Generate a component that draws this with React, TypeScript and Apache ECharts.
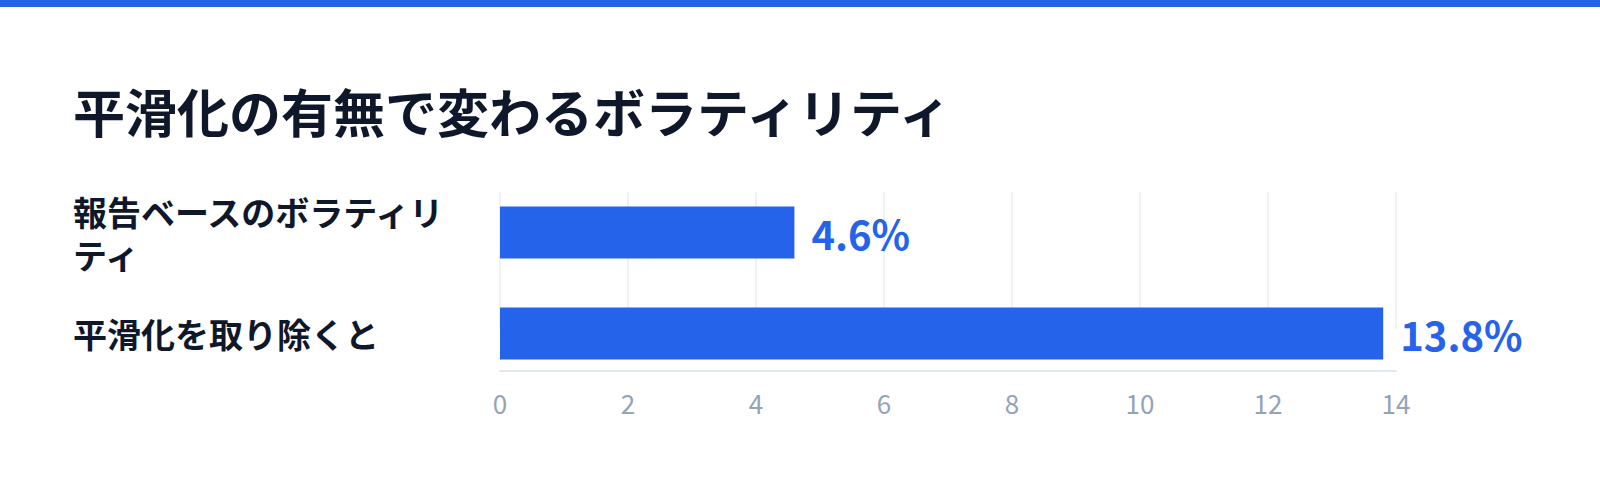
import { useEffect, useRef } from "react";
import * as echarts from "echarts";

// chart data
const categories = ["報告ベースのボラティリティ", "平滑化を取り除くと"];
const volatility = [4.6, 13.8];
const axisMin = 0;
const axisMax = 14;
const axisStep = 2;

const TITLE = "平滑化の有無で変わるボラティリティ";
const BLUE = "#2563eb";
const INK = "#0f172a";
const FONT = "'Noto Sans CJK JP', 'Noto Sans', sans-serif";

// shared horizontal placement for all three grids
const LEFT = 500;
const WIDTH = 896;

export default function App() {
  const ref = useRef<HTMLDivElement>(null);

  useEffect(() => {
    if (!ref.current) return;
    const chart = echarts.init(ref.current, null, { renderer: "svg" });

    chart.setOption({
      animation: false,
      backgroundColor: "#ffffff",
      textStyle: { fontFamily: FONT },
      title: {
        text: TITLE,
        left: 68,
        top: 79,
        textStyle: { fontFamily: FONT, fontSize: 52, fontWeight: 700, color: INK },
      },
      graphic: [
        { type: "rect", left: 0, top: 0, shape: { width: 1600, height: 7 }, style: { fill: BLUE } },
      ],
      grid: [
        // bars
        { left: LEFT, width: WIDTH, top: 182, height: 202 },
        // vertical gridlines
        { left: LEFT, width: WIDTH, top: 192, height: 137 },
        // axis line + tick labels
        { left: LEFT, width: WIDTH, top: 192, height: 179 },
      ],
      xAxis: [
        { gridIndex: 0, type: "value", min: axisMin, max: axisMax, interval: axisStep, show: false },
        {
          gridIndex: 1,
          type: "value",
          min: axisMin,
          max: axisMax,
          interval: axisStep,
          axisLine: { show: false },
          axisTick: { show: false },
          axisLabel: { show: false },
          splitLine: { show: true, lineStyle: { color: "#eef2f7", width: 2 } },
        },
        {
          gridIndex: 2,
          type: "value",
          min: axisMin,
          max: axisMax,
          interval: axisStep,
          axisLine: { show: true, lineStyle: { color: "#e2e8f0", width: 2 } },
          axisTick: { show: false },
          splitLine: { show: false },
          axisLabel: { color: "#94a3b8", fontSize: 26, fontFamily: FONT, margin: 18 },
        },
      ],
      yAxis: [
        {
          gridIndex: 0,
          type: "category",
          data: categories,
          inverse: true,
          axisLine: { show: false },
          axisTick: { show: false },
          splitLine: { show: false },
          axisLabel: {
            align: "left",
            margin: 427,
            width: 392,
            overflow: "break",
            lineHeight: 43,
            fontSize: 34,
            fontWeight: 700,
            color: INK,
            fontFamily: FONT,
          },
        },
        { gridIndex: 1, type: "value", show: false },
        { gridIndex: 2, type: "value", show: false },
      ],
      series: [
        {
          type: "bar",
          xAxisIndex: 0,
          yAxisIndex: 0,
          data: volatility,
          barWidth: 52,
          itemStyle: { color: BLUE },
          label: {
            show: true,
            position: "right",
            distance: 17,
            formatter: "{c}%",
            color: BLUE,
            fontSize: 40,
            fontWeight: 700,
            fontFamily: FONT,
          },
        },
      ],
    });

    return () => chart.dispose();
  }, []);

  return (
    <div
      ref={ref}
      style={{ position: "absolute", left: 0, top: 0, width: 1600, height: 491 }}
    />
  );
}
